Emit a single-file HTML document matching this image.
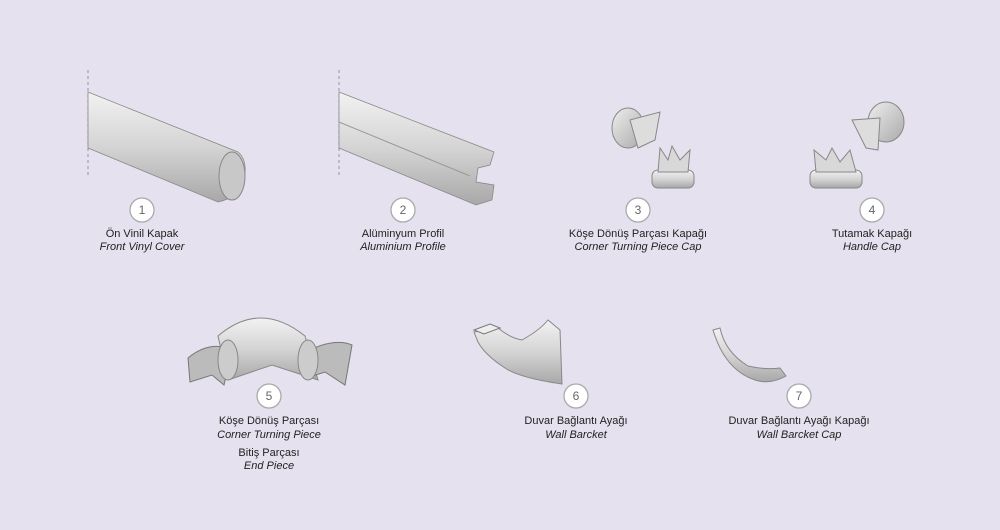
<!DOCTYPE html>
<html><head><meta charset="utf-8"><style>
html,body{margin:0;padding:0;background:#e5e1ee;}
svg{display:block}
text{font-family:"Liberation Sans",sans-serif;font-size:11px;fill:#222;text-anchor:middle}
.i{font-style:italic}
.c{fill:#fff;stroke:#aaa;stroke-width:1.3}
.n{font-size:12px;fill:#666}
</style></head><body>
<svg width="1000" height="530" viewBox="0 0 1000 530">
<defs>
<linearGradient id="g" x1="0" y1="0" x2="0" y2="1"><stop offset="0" stop-color="#f2f2f2"/><stop offset="0.5" stop-color="#d4d4d4"/><stop offset="1" stop-color="#a8a8a8"/></linearGradient>
<linearGradient id="g2" x1="0" y1="0" x2="1" y2="1"><stop offset="0" stop-color="#eee"/><stop offset="1" stop-color="#aaa"/></linearGradient>
</defs>
<rect width="1000" height="530" fill="#e5e1ee"/>
<!-- 1 -->
<line x1="88" y1="70" x2="88" y2="178" stroke="#9a8fb0" stroke-dasharray="3,3"/>
<path d="M88 92 L238 152 Q248 160 244 180 Q240 197 218 202 L88 148 Z" fill="url(#g)" stroke="#888" stroke-width="0.8"/>
<ellipse cx="232" cy="176" rx="13" ry="24" fill="#c8c8c8" stroke="#888"/>
<!-- 2 -->
<line x1="339" y1="70" x2="339" y2="178" stroke="#9a8fb0" stroke-dasharray="3,3"/>
<path d="M339 92 L494 152 L490 165 L478 168 L476 182 L494 185 L492 200 L476 205 L339 148 Z" fill="url(#g)" stroke="#888" stroke-width="0.8"/>
<line x1="339" y1="122" x2="470" y2="176" stroke="#999"/>
<!-- 3 -->
<ellipse cx="628" cy="128" rx="16" ry="20" fill="url(#g2)" stroke="#888"/>
<path d="M630 120 L660 112 L655 140 L638 148 Z" fill="#ddd" stroke="#888"/>
<rect x="652" y="170" width="42" height="18" rx="6" fill="url(#g)" stroke="#888"/>
<path d="M658 172 L660 148 L668 160 L672 146 L680 160 L690 150 L688 172 Z" fill="#d8d8d8" stroke="#888"/>
<!-- 4 -->
<ellipse cx="886" cy="122" rx="18" ry="20" fill="url(#g2)" stroke="#888"/>
<path d="M880 118 L852 120 L866 148 L878 150 Z" fill="#ddd" stroke="#888"/>
<rect x="810" y="170" width="52" height="18" rx="6" fill="url(#g)" stroke="#888"/>
<path d="M816 172 L814 150 L826 160 L832 148 L840 162 L850 150 L856 172 Z" fill="#d8d8d8" stroke="#888"/>
<!-- 5 -->
<path d="M218 336 Q260 300 305 336 L318 380 L272 365 L228 380 Z" fill="url(#g)" stroke="#888"/>
<path d="M188 358 Q210 340 232 350 L224 385 L212 375 L190 382 Z" fill="#bbb" stroke="#777"/>
<path d="M310 350 Q335 338 352 345 L345 385 L325 372 L306 378 Z" fill="#bbb" stroke="#777"/>
<ellipse cx="228" cy="360" rx="10" ry="20" fill="#ccc" stroke="#888"/>
<ellipse cx="308" cy="360" rx="10" ry="20" fill="#ccc" stroke="#888"/>
<!-- 6 -->
<path d="M474 332 L498 328 Q510 338 522 340 Q540 330 548 320 L560 330 L562 384 Q520 378 505 368 Q485 355 478 342 Z" fill="url(#g)" stroke="#888"/>
<path d="M474 330 L490 324 L500 328 L484 334 Z" fill="#eee" stroke="#777"/>
<!-- 7 -->
<path d="M713 330 L720 328 Q725 352 748 366 Q765 370 780 368 L786 376 Q770 385 755 380 Q725 370 713 330 Z" fill="url(#g)" stroke="#888"/>
<!-- labels -->
<circle class="c" cx="142" cy="210" r="12"/><text class="n" x="142" y="214">1</text>
<text x="142" y="237">Ön Vinil Kapak</text><text class="i" x="142" y="250">Front Vinyl Cover</text>
<circle class="c" cx="403" cy="210" r="12"/><text class="n" x="403" y="214">2</text>
<text x="403" y="237">Alüminyum Profil</text><text class="i" x="403" y="250">Aluminium Profile</text>
<circle class="c" cx="638" cy="210" r="12"/><text class="n" x="638" y="214">3</text>
<text x="638" y="237">Köşe Dönüş Parçası Kapağı</text><text class="i" x="638" y="250">Corner Turning Piece Cap</text>
<circle class="c" cx="872" cy="210" r="12"/><text class="n" x="872" y="214">4</text>
<text x="872" y="237">Tutamak Kapağı</text><text class="i" x="872" y="250">Handle Cap</text>
<circle class="c" cx="269" cy="396" r="12"/><text class="n" x="269" y="400">5</text>
<text x="269" y="424">Köşe Dönüş Parçası</text><text class="i" x="269" y="438">Corner Turning Piece</text>
<text x="269" y="456">Bitiş Parçası</text><text class="i" x="269" y="469">End Piece</text>
<circle class="c" cx="576" cy="396" r="12"/><text class="n" x="576" y="400">6</text>
<text x="576" y="424">Duvar Bağlantı Ayağı</text><text class="i" x="576" y="438">Wall Barcket</text>
<circle class="c" cx="799" cy="396" r="12"/><text class="n" x="799" y="400">7</text>
<text x="799" y="424">Duvar Bağlantı Ayağı Kapağı</text><text class="i" x="799" y="438">Wall Barcket Cap</text>
</svg>
</body></html>
